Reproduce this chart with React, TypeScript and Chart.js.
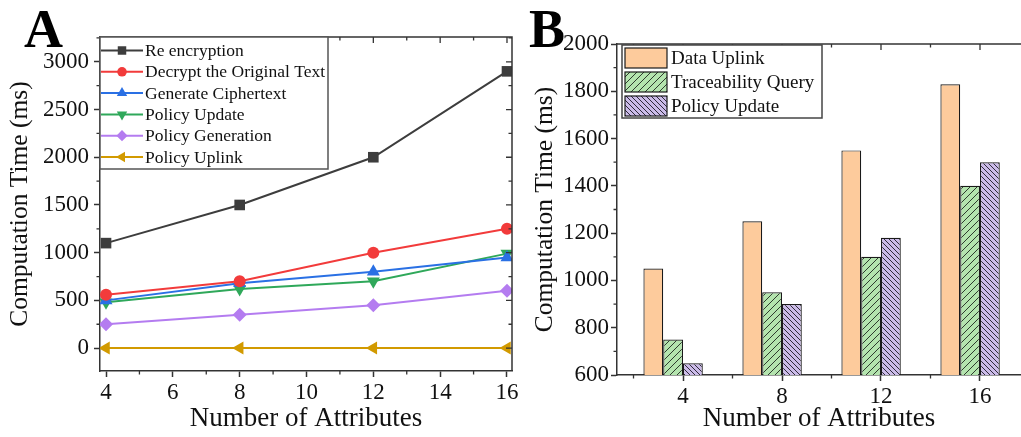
import React, { useEffect, useRef } from 'react';
import { Chart, registerables } from 'chart.js';
Chart.register(...registerables);

// ---------- data ----------
const attributes = [4, 8, 12, 16];

// Panel A
const reEncryption = [1100, 1500, 2000, 2900];
const decryptOriginal = [560, 700, 1000, 1250];
const generateCiphertext = [500, 680, 800, 950];
const policyUpdateA = [480, 620, 700, 990];
const policyGeneration = [250, 350, 450, 600];
const policyUplink = [0, 0, 0, 0];
const xTicksA = [4, 6, 8, 10, 12, 14, 16];
const yTicksA = [0, 500, 1000, 1500, 2000, 2500, 3000];

// Panel B
const dataUplink = [1050, 1250, 1550, 1830];
const traceabilityQuery = [750, 950, 1100, 1400];
const policyUpdateB = [650, 900, 1180, 1500];
const xTicksB = [4, 8, 12, 16];
const yTicksB = [600, 800, 1000, 1200, 1400, 1600, 1800, 2000];

// ---------- styling ----------
const FONT = "'Liberation Serif', 'Times New Roman', serif";
const AXIS = '#333333';
const TEXT = '#111111';

const seriesA = [
  { label: 'Re encryption', values: reEncryption, color: '#3d3d3d', style: 'rect', rot: 0, r: 7.5 },
  { label: 'Decrypt the Original Text', values: decryptOriginal, color: '#f23b3b', style: 'circle', rot: 0, r: 6 },
  { label: 'Generate Ciphertext', values: generateCiphertext, color: '#2a70e4', style: 'triangle', rot: 0, r: 7.5 },
  { label: 'Policy Update', values: policyUpdateA, color: '#2fa85a', style: 'triangle', rot: 180, r: 7.5 },
  { label: 'Policy Generation', values: policyGeneration, color: '#b47cf0', style: 'rectRot', rot: 0, r: 7 },
  { label: 'Policy Uplink', values: policyUplink, color: '#d29a00', style: 'triangle', rot: -90, r: 7.5 },
];

function midpoints(vals: number[], min: number, max: number) {
  const out: number[] = [];
  const step = vals[1] - vals[0];
  for (let i = -1; i < vals.length; i++) {
    const v = vals[0] + step * (i + 0.5);
    if (v > min && v < max) out.push(v);
  }
  return out;
}

function drawFrame(chart: any, xMajor: number[], yMajor: number[], drawRight: boolean) {
  const { ctx, chartArea: ca, scales } = chart;
  const xs = scales.x, ys = scales.y;
  const xMinor = midpoints(xMajor, xs.min, xs.max);
  const yMinor = midpoints(yMajor, ys.min, ys.max);
  ctx.save();
  ctx.strokeStyle = AXIS;
  ctx.lineWidth = 1.5;
  ctx.beginPath();
  ctx.moveTo(ca.left, ca.top);
  ctx.lineTo(ca.right, ca.top);
  if (drawRight) ctx.lineTo(ca.right, ca.bottom);
  ctx.stroke();
  ctx.lineWidth = 1.3;
  ctx.beginPath();
  for (const v of xMinor) {
    const p = xs.getPixelForValue(v);
    ctx.moveTo(p, ca.bottom); ctx.lineTo(p, ca.bottom + 3.5);
    ctx.moveTo(p, ca.top); ctx.lineTo(p, ca.top + 3.5);
  }
  for (const v of xMajor) {
    const p = xs.getPixelForValue(v);
    ctx.moveTo(p, ca.top); ctx.lineTo(p, ca.top + 6);
  }
  for (const v of yMinor) {
    const p = ys.getPixelForValue(v);
    ctx.moveTo(ca.left, p); ctx.lineTo(ca.left - 3.5, p);
    if (drawRight) { ctx.moveTo(ca.right, p); ctx.lineTo(ca.right - 3.5, p); }
  }
  if (drawRight) {
    for (const v of yMajor) {
      const p = ys.getPixelForValue(v);
      ctx.moveTo(ca.right, p); ctx.lineTo(ca.right - 6, p);
    }
  }
  ctx.stroke();
  ctx.restore();
}

function drawMarker(ctx: CanvasRenderingContext2D, style: string, rot: number, x: number, y: number, r: number, color: string) {
  ctx.save();
  ctx.translate(x, y);
  ctx.rotate((rot * Math.PI) / 180);
  ctx.fillStyle = color;
  ctx.beginPath();
  if (style === 'rect') {
    const s = r * Math.SQRT1_2;
    ctx.rect(-s, -s, 2 * s, 2 * s);
  } else if (style === 'circle') {
    ctx.arc(0, 0, r, 0, Math.PI * 2);
  } else if (style === 'triangle') {
    ctx.moveTo(0, -r);
    ctx.lineTo(0.866 * r, 0.5 * r);
    ctx.lineTo(-0.866 * r, 0.5 * r);
  } else {
    ctx.moveTo(0, -r); ctx.lineTo(r, 0); ctx.lineTo(0, r); ctx.lineTo(-r, 0);
  }
  ctx.closePath();
  ctx.fill();
  ctx.restore();
}

function hatch(ctx: CanvasRenderingContext2D, bg: string, fg: string, size: number, dir: string) {
  const c = document.createElement('canvas');
  c.width = size; c.height = size;
  const g = c.getContext('2d')!;
  g.fillStyle = bg; g.fillRect(0, 0, size, size);
  g.strokeStyle = fg; g.lineWidth = 1;
  g.beginPath();
  if (dir === '/') {
    g.moveTo(0, size); g.lineTo(size, 0);
    g.moveTo(-1, 1); g.lineTo(1, -1);
    g.moveTo(size - 1, size + 1); g.lineTo(size + 1, size - 1);
  } else {
    g.moveTo(0, 0); g.lineTo(size, size);
    g.moveTo(size - 1, -1); g.lineTo(size + 1, 1);
    g.moveTo(-1, size - 1); g.lineTo(1, size + 1);
  }
  g.stroke();
  return ctx.createPattern(c, 'repeat')!;
}

const tickFont = { family: FONT, size: 23 };
const xTitleFont = { family: FONT, size: 27 };
const yTitleFont = { family: FONT, size: 25.5 };
const gridOpts = { display: true, drawOnChartArea: false, drawTicks: true, tickLength: 6, tickColor: AXIS, tickWidth: 1.5, color: AXIS };
const borderOpts = { display: true, color: AXIS, width: 1.5 };

function buildA(): any {
  const decor = {
    id: 'decorA',
    afterDatasetsDraw(chart: any) {
      drawFrame(chart, xTicksA, yTicksA, true);
      const ctx: CanvasRenderingContext2D = chart.ctx;
      const L = chart.chartArea.left, T = chart.chartArea.top;
      ctx.save();
      ctx.fillStyle = '#fff';
      ctx.fillRect(L, T, 228, 132);
      ctx.strokeStyle = '#555';
      ctx.lineWidth = 1.5;
      ctx.strokeRect(L, T, 228, 132);
      seriesA.forEach((s, i) => {
        const y = T + 13.5 + i * 21.3;
        ctx.strokeStyle = s.color; ctx.lineWidth = 2;
        ctx.beginPath(); ctx.moveTo(L + 1, y); ctx.lineTo(L + 43, y); ctx.stroke();
        drawMarker(ctx, s.style, s.rot, L + 22, y, s.r * 0.8, s.color);
        ctx.fillStyle = TEXT;
        ctx.font = `17.5px ${FONT}`;
        ctx.textBaseline = 'middle';
        ctx.textAlign = 'left';
        ctx.fillText(s.label, L + 45, y + 1);
      });
      ctx.fillStyle = '#000';
      ctx.font = `bold 54px ${FONT}`;
      ctx.textBaseline = 'alphabetic';
      ctx.fillText('A', 24, 47);
      ctx.restore();
    },
  };
  return {
    type: 'line',
    data: {
      datasets: seriesA.map((s) => ({
        label: s.label,
        data: attributes.map((x, i) => ({ x, y: s.values[i] })),
        borderColor: s.color,
        backgroundColor: s.color,
        borderWidth: 2,
        pointStyle: s.style,
        pointRotation: s.rot,
        pointRadius: s.r,
        pointBorderWidth: 0,
        tension: 0,
      })),
    },
    options: {
      animation: false,
      responsive: false,
      devicePixelRatio: 1,
      layout: { padding: { top: 37, right: 8, left: 0, bottom: 0 } },
      plugins: { legend: { display: false }, tooltip: { enabled: false } },
      scales: {
        x: {
          type: 'linear', min: 3.82, max: 16.15,
          afterBuildTicks: (s: any) => { s.ticks = xTicksA.map((v) => ({ value: v })); },
          afterFit: (s: any) => { s.height = 66; s.paddingLeft = 0; s.paddingRight = 0; },
          ticks: { font: tickFont, color: TEXT, padding: 2, maxRotation: 0, autoSkip: false, callback: (v: any) => String(v) },
          grid: gridOpts, border: borderOpts,
          title: { display: true, text: 'Number of Attributes', font: xTitleFont, color: TEXT, padding: { top: 0, bottom: 2 } },
        },
        y: {
          type: 'linear', min: -240, max: 3260,
          afterBuildTicks: (s: any) => { s.ticks = yTicksA.map((v) => ({ value: v })); },
          afterFit: (s: any) => { s.width = 100; s.paddingTop = 0; s.paddingBottom = 0; },
          ticks: { font: tickFont, color: TEXT, padding: 5, autoSkip: false, callback: (v: any) => String(v) },
          grid: gridOpts, border: borderOpts,
          title: { display: true, text: 'Computation Time (ms)', font: yTitleFont, color: TEXT, padding: { top: 5, bottom: 0 } },
        },
      },
    },
    plugins: [decor],
  };
}

function buildB(ctx: CanvasRenderingContext2D): any {
  const orange = '#fdcb9c';
  const green = hatch(ctx, '#b4e4ae', '#2e3b2e', 7, '/');
  const purple = hatch(ctx, '#cbbbe8', '#2f2a3a', 5, '\\');
  const barsB = [
    { label: 'Data Uplink', values: dataUplink, fill: orange as any },
    { label: 'Traceability Query', values: traceabilityQuery, fill: green as any },
    { label: 'Policy Update', values: policyUpdateB, fill: purple as any },
  ];
  const decor = {
    id: 'decorB',
    afterDatasetsDraw(chart: any) {
      drawFrame(chart, xTicksB, yTicksB, false);
      const c: CanvasRenderingContext2D = chart.ctx;
      const L = chart.chartArea.left, T = chart.chartArea.top;
      c.save();
      c.fillStyle = '#fff';
      c.fillRect(L + 5, T + 1, 200, 73);
      c.strokeStyle = '#444';
      c.lineWidth = 1.5;
      c.strokeRect(L + 5, T + 1, 200, 73);
      barsB.forEach((s, i) => {
        const cy = T + 14 + i * 24;
        c.fillStyle = s.fill;
        c.fillRect(L + 8, cy - 10, 42, 20);
        c.strokeStyle = '#1a1a1a'; c.lineWidth = 1.2;
        c.strokeRect(L + 8, cy - 10, 42, 20);
        c.fillStyle = TEXT;
        c.font = `19px ${FONT}`;
        c.textBaseline = 'middle';
        c.textAlign = 'left';
        c.fillText(s.label, L + 54, cy + 1);
      });
      c.fillStyle = '#000';
      c.font = `bold 54px ${FONT}`;
      c.textBaseline = 'alphabetic';
      c.fillText('B', 9, 47);
      c.restore();
    },
  };
  const datasets: any[] = barsB.map((s) => ({
    label: s.label,
    data: attributes.map((x, i) => ({ x, y: s.values[i] })),
    backgroundColor: s.fill,
    borderColor: '#1a1a1a',
    borderWidth: 1.2,
    categoryPercentage: 0.8,
    barPercentage: 1,
  }));
  // empty slot so that the group is centred like the original
  datasets.push({
    label: '',
    data: attributes.map((x) => ({ x, y: null })),
    backgroundColor: 'rgba(0,0,0,0)',
    borderWidth: 0,
    categoryPercentage: 0.8,
    barPercentage: 1,
  });
  return {
    type: 'bar',
    data: { datasets },
    options: {
      animation: false,
      responsive: false,
      devicePixelRatio: 1,
      layout: { padding: { top: 44, right: 0, left: 0, bottom: 0 } },
      plugins: { legend: { display: false }, tooltip: { enabled: false } },
      scales: {
        x: {
          type: 'linear', min: 1.333, max: 17.657, offset: false,
          afterBuildTicks: (s: any) => { s.ticks = xTicksB.map((v) => ({ value: v })); },
          afterFit: (s: any) => { s.height = 62; s.paddingLeft = 0; s.paddingRight = 0; },
          ticks: { font: tickFont, color: TEXT, padding: 2, maxRotation: 0, autoSkip: false, callback: (v: any) => String(v) },
          grid: { ...gridOpts, offset: false }, border: borderOpts,
          title: { display: true, text: 'Number of Attributes', font: xTitleFont, color: TEXT, padding: { top: 0, bottom: 2 } },
        },
        y: {
          type: 'linear', min: 600, max: 2000,
          afterBuildTicks: (s: any) => { s.ticks = yTicksB.map((v) => ({ value: v })); },
          afterFit: (s: any) => { s.width = 97; s.paddingTop = 0; s.paddingBottom = 0; },
          ticks: { font: tickFont, color: TEXT, padding: 2, autoSkip: false, callback: (v: any) => String(v) },
          grid: gridOpts, border: borderOpts,
          title: { display: true, text: 'Computation Time (ms)', font: yTitleFont, color: TEXT, padding: { top: 10, bottom: 0 } },
        },
      },
    },
    plugins: [decor],
  };
}

export default function App() {
  const refA = useRef<HTMLCanvasElement>(null);
  const refB = useRef<HTMLCanvasElement>(null);
  useEffect(() => {
    const a = new Chart(refA.current!, buildA());
    const ctxB = refB.current!.getContext('2d')!;
    const b = new Chart(refB.current!, buildB(ctxB));
    return () => { a.destroy(); b.destroy(); };
  }, []);
  return (
    <div style={{ position: 'fixed', left: 0, top: 0, width: 1021, height: 437, background: '#fff', overflow: 'hidden' }}>
      <canvas ref={refA} width={520} height={437} style={{ position: 'absolute', left: 0, top: 0, width: 520, height: 437 }} />
      <canvas ref={refB} width={501} height={437} style={{ position: 'absolute', left: 520, top: 0, width: 501, height: 437 }} />
    </div>
  );
}
